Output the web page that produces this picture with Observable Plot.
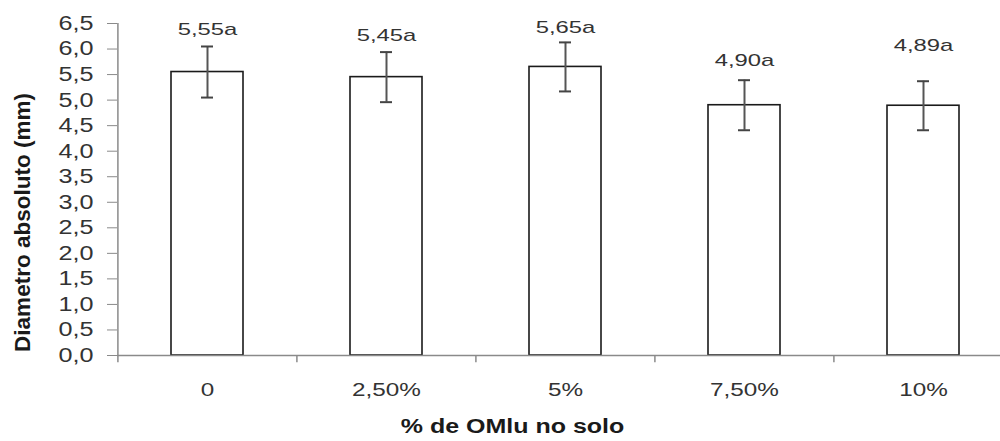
<!DOCTYPE html>
<html>
<head>
<meta charset="utf-8">
<script src="https://cdn.jsdelivr.net/npm/d3@7"></script>
<script src="https://cdn.jsdelivr.net/npm/@observablehq/plot@0.6"></script>
<style>
  html, body { margin: 0; padding: 0; background: #fff; overflow: hidden; }
  #chart svg { display: block; }
</style>
</head>
<body>
<div id="chart"></div>
<script>
// ---- data ----
const categories = ["0", "2,50%", "5%", "7,50%", "10%"];
const means      = [5.55, 5.45, 5.65, 4.90, 4.89];
const errors     = [0.50, 0.49, 0.48, 0.49, 0.48];
const valueLabels = ["5,55a", "5,45a", "5,65a", "4,90a", "4,89a"];
const labelHeights = [6.38, 6.26, 6.42, 5.78, 6.07];
const yTicks      = [0, 0.5, 1, 1.5, 2, 2.5, 3, 3.5, 4, 4.5, 5, 5.5, 6, 6.5];
const yTickLabels = ["0,0","0,5","1,0","1,5","2,0","2,5","3,0","3,5","4,0","4,5","5,0","5,5","6,0","6,5"];
const yTitle = "Diametro absoluto (mm)";
const xTitle = "% de OMlu no solo";

const data = categories.map((c, i) => ({
  cat: c, mean: means[i], err: errors[i], label: valueLabels[i], ly: labelHeights[i]
}));

const W = 1000, H = 441;
const mL = 117, mR = -13, mT = 23, mB = 86;
const step = (W - mR - mL) / categories.length;

const chart = Plot.plot({
  width: W, height: H,
  marginLeft: mL, marginRight: mR, marginTop: mT, marginBottom: mB,
  style: { fontFamily: "'Liberation Sans', Arial, sans-serif", background: "#fff", overflow: "hidden" },
  x: { domain: categories, paddingInner: 0.6, paddingOuter: 0.3, axis: null },
  y: { domain: [0, 6.5], axis: null },
  marks: [
    Plot.barY(data, { x: "cat", y: "mean", fill: "#fff", stroke: "#1a1a1a", strokeWidth: 1.6 }),
    // error bars
    Plot.ruleX(data, { x: "cat", y1: d => d.mean - d.err, y2: d => d.mean + d.err, stroke: "#555", strokeWidth: 2 }),
    Plot.tickY(data, { x: "cat", y: d => d.mean + d.err, insetLeft: 30, insetRight: 30, stroke: "#444", strokeWidth: 2 }),
    Plot.tickY(data, { x: "cat", y: d => d.mean - d.err, insetLeft: 30, insetRight: 30, stroke: "#444", strokeWidth: 2 }),
    // axes lines
    Plot.ruleY([0], { stroke: "#8a8a8a", strokeWidth: 1.5 }),
    Plot.ruleX([categories[0]], { x: d => d, y1: 0, y2: 6.5, dx: -step / 2, stroke: "#8a8a8a", strokeWidth: 1.5 }),
    Plot.ruleX(categories, { x: d => d, y1: 0, y2: -0.14, dx: -step / 2, stroke: "#8a8a8a", strokeWidth: 1.5 }),
    // y axis
    Plot.axisY({ ticks: yTicks, tickFormat: d => yTickLabels[yTicks.indexOf(d)], tickSize: 10, tickPadding: 14,
      stroke: "#8a8a8a", fill: "#333", fontSize: 20, label: null, className: "st-y" }),
    // x axis labels
    Plot.axisX({ tickSize: 0, tickPadding: 28, fill: "#333", fontSize: 18, label: null, className: "st-x" }),
    // value labels
    Plot.text(data, { x: "cat", y: "ly", text: "label", fill: "#333", fontSize: 17, className: "st-v" }),
    // titles
    Plot.text([yTitle], { frameAnchor: "left", textAnchor: "middle", dx: -95, dy: 33, rotate: -90, fontWeight: "bold", fontSize: 22.5, fill: "#1a1a1a" }),
    Plot.text([xTitle], { frameAnchor: "bottom", dy: 77, dx: (512 - (mL + (W - mR)) / 2), fontWeight: "bold", fontSize: 20, fill: "#1a1a1a", className: "st-t" })
  ]
});

document.getElementById("chart").append(chart);

// horizontal stretch of text glyphs, as in the reference picture
const stretch = { "st-y": 1.26, "st-x": 1.35, "st-v": 1.4, "st-t": 1.25 };
for (const [cls, k] of Object.entries(stretch)) {
  chart.querySelectorAll("g." + cls + " text").forEach(t => {
    const len = t.getComputedTextLength();
    t.setAttribute("textLength", (len * k).toFixed(1));
    t.setAttribute("lengthAdjust", "spacingAndGlyphs");
  });
}
</script>
</body>
</html>
